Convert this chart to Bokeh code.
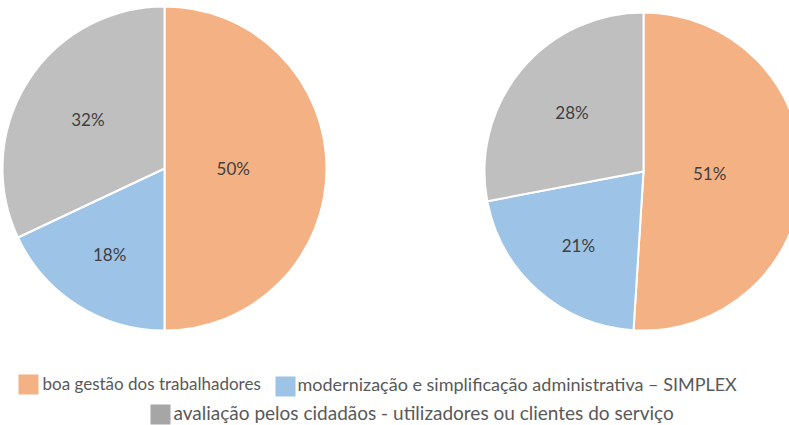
import numpy as np
from bokeh.plotting import figure
from bokeh.models import Range1d, ColumnDataSource
from bokeh.core.properties import value
from bokeh.embed import file_html
from bokeh.resources import INLINE

# ---- data ----
categories = [
    "boa gestão dos trabalhadores",
    "modernização e simplificação administrativa – SIMPLEX",
    "avaliação pelos cidadãos - utilizadores ou clientes do serviço",
]
pie_left = [50, 18, 32]
pie_right = [51, 21, 28]

# ---- style ----
colors = ["#F4B183", "#9DC3E6", "#BFBFBF"]
legend_colors = ["#F4B183", "#9DC3E6", "#A6A6A6"]
FONT = "Lato"

W, H = 789, 425
p = figure(width=W, height=H, output_backend="svg", toolbar_location=None,
           x_range=Range1d(0, W), y_range=Range1d(0, H),
           min_border=0, outline_line_color=None)
p.axis.visible = False
p.grid.visible = False
p.background_fill_color = "white"
p.border_fill_color = "white"


def draw_pie(vals, cx, cy, r):
    vals = np.array(vals, dtype=float)
    frac = vals / vals.sum()
    cum = np.concatenate([[0], np.cumsum(frac)])
    start = np.pi / 2 - cum[:-1] * 2 * np.pi
    end = np.pi / 2 - cum[1:] * 2 * np.pi
    src = ColumnDataSource(dict(x=[cx] * len(vals), y=[cy] * len(vals),
                                start=start, end=end, color=colors))
    p.wedge(x="x", y="y", radius=r, start_angle="start", end_angle="end",
            direction="clock", fill_color="color", line_color="white",
            line_width=2, source=src)
    half = frac * np.pi
    mid = (start + end) / 2
    d = 2 * r * np.sin(half) / (3 * half)
    lx = cx + d * np.cos(mid)
    ly = cy + d * np.sin(mid)
    labels = [f"{int(v)}%" for v in vals]
    p.text(x=lx, y=ly, text=labels, text_align="center", text_baseline="middle",
           text_font=value(FONT), text_font_size="17px", text_color="#404040")


draw_pie(pie_left, 164, H - 168, 162)
draw_pie(pie_right, 643, H - 171, 159)

# ---- legend ----
leg_sq_x = [18, 275, 150]
leg_sq_y = [H - 384, H - 386, H - 414]
leg_tx_x = [42, 297, 173]
leg_tx_y = [H - 383, H - 383, H - 412]
leg_fs = ["17px", "18px", "19px"]
p.rect(x=[x + 10 for x in leg_sq_x], y=leg_sq_y, width=20, height=20,
       fill_color=legend_colors, line_color=None)
for i in range(3):
    p.text(x=[leg_tx_x[i]], y=[leg_tx_y[i]], text=[categories[i]], text_align="left",
           text_baseline="middle", text_font=value(FONT), text_font_size=leg_fs[i],
           text_color="#595959")

open("out.html", "w").write(file_html(p, INLINE))
